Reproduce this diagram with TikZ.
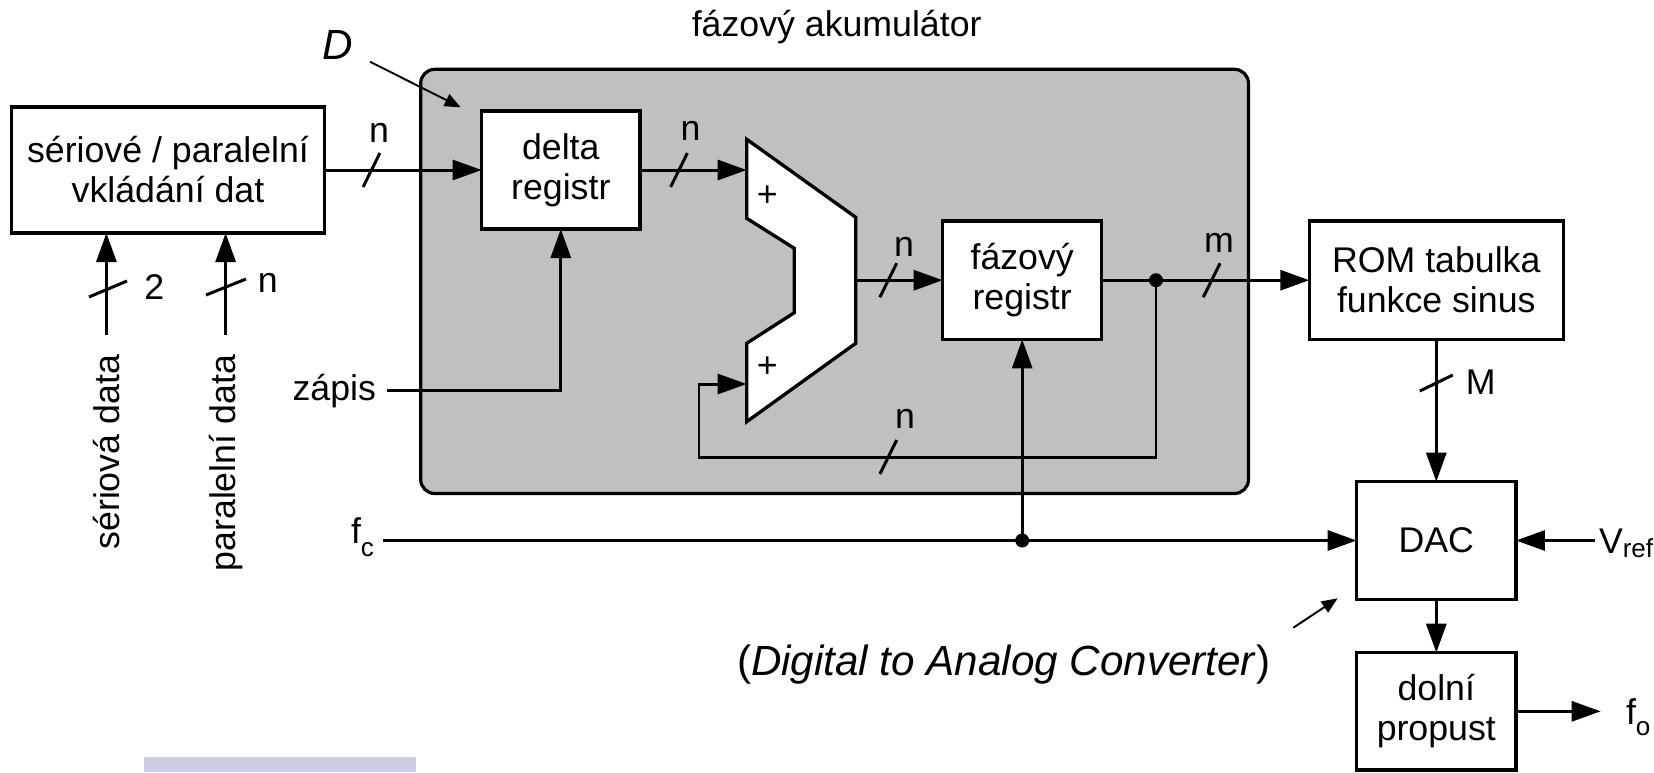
\documentclass[tikz,border=0pt]{standalone}
\usepackage{fontspec}
\setmainfont{Liberation Sans}
\usetikzlibrary{arrows.meta}
\definecolor{accfill}{RGB}{192,192,192}
\definecolor{tabband}{RGB}{203,205,230}

\begin{document}
\begin{tikzpicture}[x=0.1mm, y=-0.1mm,
  font=\fontsize{10.16}{11.38}\selectfont,
  block/.style={draw, line width=0.95pt, fill=white, align=center, inner sep=0pt, outer sep=0pt},
  sig/.style={line width=0.85pt, -{Triangle[length=2.9mm,width=2mm]}},
  busmark/.style={line width=0.85pt},
  note/.style={line width=0.55pt, -{Triangle[length=1.6mm,width=1.3mm]}},
  lbl/.style={inner sep=0pt, outer sep=0pt},
  dot/.style={circle, fill, inner sep=0pt, minimum size=1.4mm},
  bigtext/.style={font=\fontsize{12}{14}\selectfont},
]
\useasboundingbox (0,0) rectangle (1654,772);

% band at the lower left
\fill[tabband] (144,757) rectangle (416,772);

% phase accumulator frame
\node[draw, line width=0.9pt, fill=accfill, rounded corners=1.4mm,
      minimum width=82.78mm, minimum height=42.42mm, inner sep=0pt, outer sep=0pt]
      (acc) at (834.6,281.4) {};
\node[lbl, anchor=base] (acctitle) at (836.7,36) {fázový akumulátor};

% D annotation
\node[lbl, anchor=base, font=\fontsize{12}{14}\selectfont\itshape] (dname) at (338,59.3) {D};
\coordinate (dtail) at (370,61.7);
\coordinate (dtip) at (460.7,107.3);
\draw[note] (dtail) -- (dtip);

% blocks
\node[block, minimum width=31.3mm, minimum height=12.6mm] (src) at (168,170) {sériové / paralelní\\vkládání dat};
\node[block, minimum width=15.83mm, minimum height=11.8mm] (delta) at (560.8,170) {delta\\registr};
\node[block, minimum width=15.9mm, minimum height=11.83mm] (phase) at (1022.2,280.2) {fázový\\registr};
\node[block, minimum width=25.4mm, minimum height=11.83mm] (rom) at (1436.3,280.2) {ROM tabulka\\funkce sinus};
\node[block, minimum width=15.93mm, minimum height=11.76mm] (dac) at (1436.3,540.5) {DAC};
\node[block, minimum width=15.93mm, minimum height=11.73mm] (lpf) at (1436.3,711.3) {dolní\\propust};

% adder
\draw[line width=0.95pt, fill=white]
  (746.7,139.3) -- (855.7,217.3) -- (855.7,343.3) -- (746.7,421.7) -- (746.7,343.3)
  -- (794.3,312.7) -- (794.3,248.3) -- (746.7,218.3) -- cycle;
\coordinate (addA) at (746.7,170);
\coordinate (addB) at (746.7,384);
\coordinate (addY) at (855.7,280.2);
\node[lbl] (plusA) at (767.3,196) {+};
\node[lbl] (plusB) at (767.3,367.3) {+};

% data path
\draw[sig] (src.east) -- (delta.west);
\draw[sig] (delta.east) -- (addA);
\draw[sig] (addY) -- (phase.west);
\coordinate (j1) at (1156,280.2);
\draw[sig] (phase.east) -- (rom.west);
\coordinate (fb) at (699,457);
\draw[sig] (j1) |- (fb) |- (addB);
\node[dot] (j1dot) at (j1) {};

% write strobe
\node[lbl, anchor=mid east] (wrl) at (376,391) {zápis};
\coordinate (wr) at (387,390);
\draw[sig] (wr) -| (delta.south);

% clock
\node[lbl, anchor=base east] (fcl) at (374,543.3) {f\raisebox{-3.7pt}{\fontsize{7.4}{8}\selectfont c}};
\coordinate (fcs) at (383,540.5);
\draw[sig] (fcs) -- (dac.west);
\coordinate (j2) at (phase.south |- dac.west);
\draw[sig] (j2) -- (phase.south);
\node[dot] (j2dot) at (j2) {};

% converter chain
\draw[sig] (rom.south) -- (dac.north);
\coordinate (vr) at (1595,540.5);
\draw[sig] (vr) -- (dac.east);
\node[lbl, anchor=base west] (vrl) at (1599,553) {V\raisebox{-1.4pt}{\fontsize{7.4}{8}\selectfont ref}};
\draw[sig] (dac.south) -- (lpf.north);
\coordinate (fo) at (1600.7,711.3);
\draw[sig] (lpf.east) -- (fo);
\node[lbl, anchor=base west] (fol) at (1626,724) {f\raisebox{-3.2pt}{\fontsize{7.4}{8}\selectfont o}};

% DAC annotation
\node[lbl, anchor=base west, bigtext] (dacname) at (737,675) {(\textit{Digital to Analog Converter})};
\coordinate (dntail) at (1293.3,627.7);
\coordinate (dntip) at (1337.7,598.3);
\draw[note] (dntail) -- (dntip);

% serial / parallel inputs
\coordinate (sd) at (106.4,335);
\coordinate (pd) at (225.6,335);
\draw[sig] (sd) -- (sd |- src.south);
\draw[sig] (pd) -- (pd |- src.south);
\node[lbl, rotate=90, anchor=east] (sdl) at (106.4,355) {sériová data};
\node[lbl, rotate=90, anchor=east] (pdl) at (225.6,355) {paralelní data};

% bus width marks
\draw[busmark] (371.5,170) ++(-8.4,17) -- ++(16.8,-34);
\draw[busmark] (679,170) ++(-8.4,17) -- ++(16.8,-34);
\draw[busmark] (888.3,280.2) ++(-8.4,17) -- ++(16.8,-34);
\draw[busmark] (888.3,457) ++(-8.4,17) -- ++(16.8,-34);
\draw[busmark] (1211.7,280.2) ++(-8.4,17) -- ++(16.8,-34);
\draw[busmark] (1436.3,383) ++(-16.5,8) -- ++(33,-16);
\draw[busmark] (108,289) ++(-19,8) -- ++(38,-16);
\draw[busmark] (226,287) ++(-20,8) -- ++(40,-16);

% bus width labels
\node[lbl] (w1) at (379,133) {n};
\node[lbl] (w2) at (690.5,131) {n};
\node[lbl] (w3) at (904,246.7) {n};
\node[lbl] (w4) at (905,419) {n};
\node[lbl] (w5) at (1219,242.5) {m};
\node[lbl] (w6) at (1480.7,382.5) {M};
\node[lbl] (w7) at (154.4,287.5) {2};
\node[lbl] (w8) at (267.7,283) {n};
\end{tikzpicture}
\end{document}
